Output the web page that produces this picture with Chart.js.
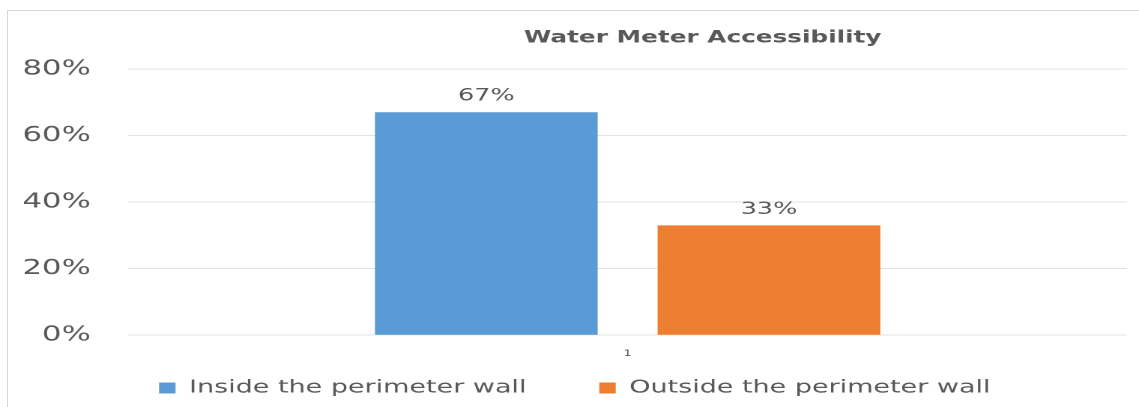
<!DOCTYPE html>
<html>
<head>
<meta charset="utf-8">
<script src="https://cdn.jsdelivr.net/npm/chart.js@4/dist/chart.umd.min.js"></script>
<style>
  html, body { margin: 0; padding: 0; background: #fff; overflow: hidden; }
  .frame {
    position: absolute; left: 7px; top: 10px; width: 1200px; height: 420px;
    border-left: 1px solid #d9d9d9; border-top: 1px solid #d9d9d9;
  }
  /* the chart is laid out narrow and stretched wide, like the exported sheet */
  .stretch {
    position: absolute; left: 0; top: 0; width: 760px; height: 407px;
    transform: scaleX(1.4987); transform-origin: 0 0;
  }
</style>
</head>
<body>
<div class="frame"></div>
<div class="stretch"><canvas id="meterChart"></canvas></div>
<script>
const chartTitle = 'Water Meter Accessibility';
const categories = ['1'];
const seriesNames = ['Inside the perimeter wall', 'Outside the perimeter wall'];
const insideValues = [67];
const outsideValues = [33];
const seriesColors = ['#5B9BD5', '#ED7D31'];
const yTicks = [0, 20, 40, 60, 80];

const FONT = "'DejaVu Sans', sans-serif";
const TEXT_GREY = '#595959';

// value labels above each bar
const barLabels = {
    id: 'barLabels',
    afterDatasetsDraw(chart) {
        const ctx = chart.ctx;
        ctx.save();
        ctx.font = `17px ${FONT}`;
        ctx.fillStyle = TEXT_GREY;
        ctx.textAlign = 'center';
        ctx.textBaseline = 'middle';
        chart.data.datasets.forEach((ds, i) => {
            chart.getDatasetMeta(i).data.forEach((bar, j) => {
                ctx.fillText(ds.data[j] + '%', bar.x, bar.y - 16);
            });
        });
        ctx.restore();
    }
};

// chart title sits right of centre
const offsetTitle = {
    id: 'offsetTitle',
    afterDraw(chart) {
        const ctx = chart.ctx;
        ctx.save();
        ctx.font = `bold 16.5px ${FONT}`;
        ctx.fillStyle = TEXT_GREY;
        ctx.textAlign = 'center';
        ctx.textBaseline = 'middle';
        ctx.fillText(chartTitle, chart.width * 0.617, 38);
        ctx.restore();
    }
};

// the axes reserve the tick padding twice; keep it once
const trimPadding = axis => {
    const pad = axis.options.ticks.padding;
    if (axis.isHorizontal()) axis.height -= pad;
    else axis.width -= pad;
};

new Chart(document.getElementById('meterChart'), {
    type: 'bar',
    data: {
        labels: categories,
        datasets: [
            {
                label: seriesNames[0],
                data: insideValues,
                backgroundColor: seriesColors[0],
                categoryPercentage: 0.566,
                barPercentage: 0.788
            },
            {
                label: seriesNames[1],
                data: outsideValues,
                backgroundColor: seriesColors[1],
                categoryPercentage: 0.566,
                barPercentage: 0.788
            }
        ]
    },
    options: {
        responsive: true,
        maintainAspectRatio: false,
        animation: false,
        devicePixelRatio: 2,
        layout: {
            padding: {left: 15, right: 8, top: 69, bottom: 0}
        },
        plugins: {
            title: {display: false},
            tooltip: {enabled: false},
            legend: {
                position: 'bottom',
                labels: {
                    boxWidth: 11,
                    boxHeight: 11,
                    padding: 20,
                    color: TEXT_GREY,
                    font: {family: FONT, size: 18},
                    // wider gap after the first entry
                    generateLabels(chart) {
                        const items = Chart.defaults.plugins.legend.labels.generateLabels(chart);
                        items.forEach((item, i) => {
                            if (i < items.length - 1) item.text += '     ';
                        });
                        return items;
                    }
                }
            }
        },
        scales: {
            x: {
                grid: {display: false, drawTicks: false},
                border: {display: false},
                ticks: {
                    padding: 13,
                    color: TEXT_GREY,
                    font: {family: FONT, size: 9}
                },
                afterFit: trimPadding
            },
            y: {
                min: 0,
                max: yTicks[yTicks.length - 1],
                afterBuildTicks(axis) {
                    axis.ticks = yTicks.map(v => ({value: v}));
                },
                grid: {color: '#e2e2e2', lineWidth: 1, drawTicks: false},
                border: {display: false},
                ticks: {
                    padding: 25,
                    color: TEXT_GREY,
                    font: {family: FONT, size: 20.5},
                    callback: v => v + '%'
                },
                afterFit: trimPadding
            }
        }
    },
    plugins: [barLabels, offsetTitle]
});
</script>
</body>
</html>
